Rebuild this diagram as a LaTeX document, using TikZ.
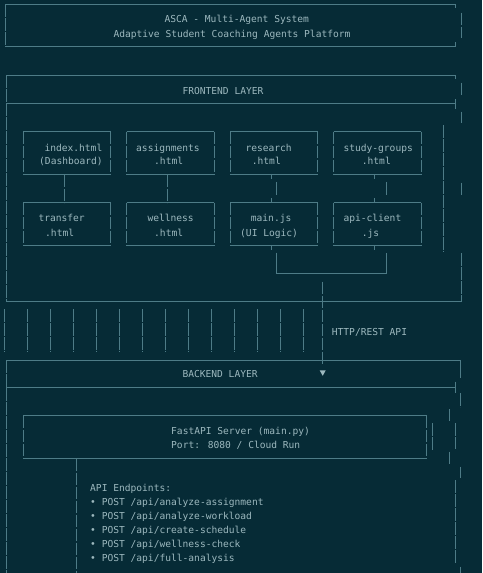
\documentclass[tikz,border=0pt]{standalone}
\usepackage{fontspec}
\newfontfamily\mono{DejaVu Sans Mono}
\usetikzlibrary{calc}
\definecolor{bg}{HTML}{062B36}
\definecolor{ln}{HTML}{4E7C87}
\definecolor{tx}{HTML}{9CB8BE}
\newcommand\asciibox[1]{%
  \draw[hl] (#1.north west) -- (#1.north east);
  \draw[hl] (#1.south west) -- (#1.south east);
  \draw[vl] (#1.north west) -- (#1.south west);
  \draw[vl] (#1.north east) -- (#1.south east);}
\begin{document}
\begin{tikzpicture}[x=1pt,y=-1pt,
  hl/.style={draw=ln,line width=0.9pt},
  vl/.style={draw=ln,line width=0.9pt,dash pattern=on 12.6pt off 1.4pt},
  lbl/.style={text=tx,font=\mono\fontsize{9.6}{11}\selectfont,inner sep=0pt,anchor=west,text height=8.6pt,text depth=0pt},
  fbox/.style={draw=none,inner sep=0pt,minimum width=87.2pt,minimum height=42.6pt}]
\fill[bg] (0,0) rectangle (482,573);
\useasboundingbox (0,0) rectangle (482,573);

% ---------- title ----------
\node[draw=none,inner sep=0pt,minimum width=449pt,minimum height=42.2pt] (title) at (230.5,25.6) {};
\draw[hl] (title.north west) -- (title.north east) -- ++(0,3.8);
\draw[hl] (title.south west) -- (title.south east) -- ++(0,-5);
\draw[vl] (title.north west) -- (title.south west);
\draw[vl] (461.7,12.7) -- (461.7,38.3);
\node[lbl] (t1) at (164.3,18.3) {ASCA - Multi-Agent System};
\node[lbl] (t2) at (113.3,33) {Adaptive Student Coaching Agents Platform};

% ---------- frontend layer ----------
\draw[hl] (6,75) -- (455,75) -- (455,79);
\node[lbl] (fe) at (182.3,90) {FRONTEND LAYER};
\draw[hl] (6,103.3) -- (455,103.3);
\draw[hl] (455,99.3) -- (455,109.3);
\draw[vl] (6,75) -- (6,301.7);
\draw[hl] (6,301.7) -- (461.7,301.7) -- (461.7,297);
\draw[vl] (461.7,82.7) -- (461.7,95);
\draw[vl] (461.7,111.7) -- (461.7,123.3);
\draw[vl] (461.7,182.7) -- (461.7,195);
\draw[vl] (461.7,253) -- (461.7,301.7);
\draw[vl] (443.3,125) -- (443.3,251.7);

% boxes row 1
\node[fbox] (b1) at (67,153) {};
\node[fbox] (b2) at (170.5,153) {};
\node[fbox] (b3) at (273.8,153) {};
\node[fbox] (b4) at (377.5,153) {};
% boxes row 2
\node[fbox] (b5) at (67,224) {};
\node[fbox] (b6) at (170.5,224) {};
\node[fbox] (b7) at (273.8,224) {};
\node[fbox] (b8) at (377.5,224) {};
\asciibox{b1}\asciibox{b2}\asciibox{b3}\asciibox{b4}
\asciibox{b5}\asciibox{b6}\asciibox{b7}\asciibox{b8}

\node[lbl] (b1a) at (44.3,146.7) {index.html};
\node[lbl] (b1b) at (39,160) {(Dashboard)};
\node[lbl] (b2a) at (136,146.7) {assignments};
\node[lbl] (b2b) at (154,160) {.html};
\node[lbl] (b3a) at (245.3,146.7) {research};
\node[lbl] (b3b) at (251.7,160) {.html};
\node[lbl] (b4a) at (343.3,146.7) {study-groups};
\node[lbl] (b4b) at (361.7,160) {.html};

\node[lbl] (b5a) at (38.3,217.3) {transfer};
\node[lbl] (b5b) at (45,231.7) {.html};
\node[lbl] (b6a) at (147.3,217.3) {wellness};
\node[lbl] (b6b) at (154,231.7) {.html};
\node[lbl] (b7a) at (250.7,217.3) {main.js};
\node[lbl] (b7b) at (240,231.7) {(UI Logic)};
\node[lbl] (b8a) at (343.3,217.3) {api-client};
\node[lbl] (b8b) at (361.7,231.7) {.js};

% connectors row1 -> row2
\draw[vl] ($(b1.south)+(-2.7,0)$) -- ($(b5.north)+(-2.7,0)$);
\draw[vl] ($(b2.south)+(-3.2,0)$) -- ($(b6.north)+(-3.2,0)$);
\draw[hl] ($(b3.south)+(-2.8,0)$) -- ++(0,4.7);
\draw[vl] ($(b3.south)+(2.9,7.4)$) -- ($(b7.north)+(2.9,-7.4)$);
\draw[hl] ($(b7.north)+(-2.8,0)$) -- ++(0,-4.7);
\draw[hl] ($(b4.south)+(-3.2,0)$) -- ++(0,4.7);
\draw[vl] ($(b4.south)+(8.5,7.4)$) -- ($(b8.north)+(8.5,-7.4)$);
\draw[hl] ($(b8.north)+(-3.2,0)$) -- ++(0,-4.7);

% join below main.js / api-client
\draw[hl] ($(b7.south)+(-2.8,0)$) -- ++(0,4.7);
\draw[hl] ($(b8.south)+(-3.2,0)$) -- ++(0,4.7);
\draw[hl] ($(b7.south)+(2.9,7.2)$) -- ($(b7.south)+(2.9,28)$) -| ($(b8.south)+(8.5,7.2)$);
\coordinate (join) at (322.7,281.7);

% HTTP gap
\foreach \xx in {4,27.3,50,73.3,96,119.3,142.3,165.7,188.3,211.3,234.3,257.3,280,303.3}
  \draw[vl] (\xx,309.3) -- (\xx,351.7);
\node[lbl] (http) at (331.7,330.7) {HTTP/REST API};

% ---------- backend layer ----------
\draw[hl] (6,364) -- (6,360) -- (460.7,360) -- (460.7,378);
\node[lbl] (be) at (182.3,372.7) {BACKEND LAYER};
\node[inner sep=0pt,minimum size=6pt] (arr) at (322.7,373) {};
\fill[tx] ($(arr)+(-3,-2.6)$) -- ($(arr)+(3,-2.6)$) -- ($(arr)+(0,2.8)$) -- cycle;
\draw[vl] (join) -- ($(arr.north)+(0,-5)$);
\draw[hl] (6,387.7) -- (455,387.7);
\draw[hl] (455,381.7) -- (455,392.7);
\draw[vl] (6,360) -- (6,573);
\draw[vl] (460.7,393) -- (460.7,407);
\draw[vl] (460.7,466.7) -- (460.7,478.3);
\draw[vl] (460.7,566.7) -- (460.7,573);
\draw[vl] (449.3,409) -- (449.3,420.7);
\draw[vl] (449.3,451.7) -- (449.3,464.3);
\draw[vl] (455,423) -- (455,449.3);
\draw[vl] (455,480) -- (455,563.3);
\draw[vl] (432.7,423.3) -- (432.7,450);

\node[draw=none,inner sep=0pt,minimum width=403.4pt,minimum height=42.6pt] (api) at (225,437) {};
\asciibox{api}
\node[lbl] (s1) at (171,430) {FastAPI Server (main.py)};
\node[lbl] (s2) at (171,444) {Port: 8080 / Cloud Run};
\coordinate (apibot) at (76,573);
\draw[vl] (api.south -| apibot) -- (apibot);

\node[lbl] (e0) at (90,487.3) {API Endpoints:};
\node[lbl] (e1) at (90,501.3) {• POST /api/analyze-assignment};
\node[lbl] (e2) at (90,515.3) {• POST /api/analyze-workload};
\node[lbl] (e3) at (90,529.3) {• POST /api/create-schedule};
\node[lbl] (e4) at (90,543.3) {• POST /api/wellness-check};
\node[lbl] (e5) at (90,557.3) {• POST /api/full-analysis};
\end{tikzpicture}
\end{document}
